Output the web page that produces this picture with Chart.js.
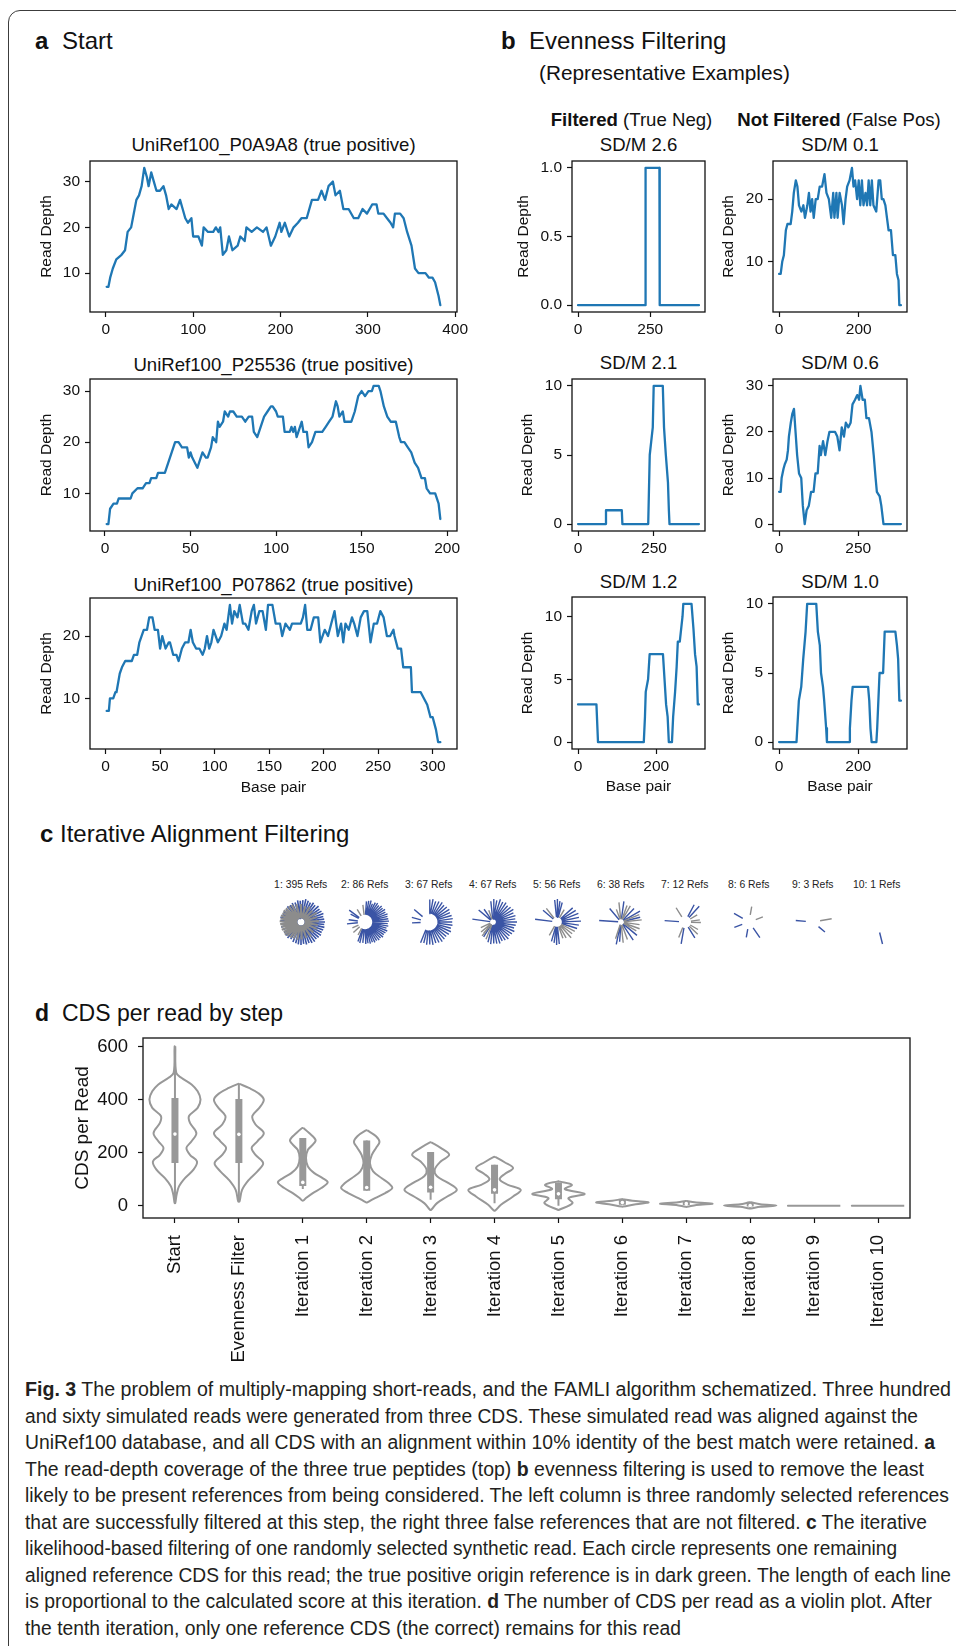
<!DOCTYPE html>
<html lang="en">
<head>
<meta charset="utf-8">
<title>FAMLI Fig. 3</title>
<script src="https://cdn.jsdelivr.net/npm/chart.js@4.4.1/dist/chart.umd.min.js"></script>
<style>
  html, body { margin:0; padding:0; background:#fff; }
  body { position:relative; width:956px; height:1646px; overflow:hidden; font-family:'Liberation Sans', Arial, Helvetica, sans-serif; color:#111; }
  canvas { position:absolute; }
  .frame { position:absolute; left:8px; top:10px; width:1000px; height:1700px; border:1.3px solid #3c3c3c; border-top-left-radius:12px; box-sizing:border-box; }
  .tx { position:absolute; white-space:nowrap; line-height:1; transform:translateY(-50%); }
  .tc { position:absolute; white-space:nowrap; line-height:1; transform:translate(-50%,-50%); }
  .hd { font-size:24px; }
  .st { font-size:18.6px; }
  .cl { font-size:10.4px; color:#222; }
  .cap { position:absolute; left:24.7px; white-space:nowrap; font-size:19.5px; line-height:1; transform-origin:0 50%; color:#231f20; }
</style>
</head>
<body>
<div class="frame"></div>

<div class="tx hd" style="left:35px;top:41px"><b>a</b></div>
<div class="tx hd" style="left:62px;top:41px">Start</div>
<div class="tx hd" style="left:501px;top:41px"><b>b</b></div>
<div class="tx hd" style="left:529px;top:41px">Evenness Filtering</div>
<div class="tx" style="left:539px;top:73px;font-size:20.8px">(Representative Examples)</div>

<div class="tc st" style="left:273.5px;top:145px">UniRef100_P0A9A8 (true positive)</div>
<div class="tc st" style="left:273.5px;top:365px">UniRef100_P25536 (true positive)</div>
<div class="tc st" style="left:273.5px;top:585px">UniRef100_P07862 (true positive)</div>

<div class="tc st" style="left:631.5px;top:120px"><b>Filtered</b> (True Neg)</div>
<div class="tc st" style="left:839px;top:120px"><b>Not Filtered</b> (False Pos)</div>
<div class="tc st" style="left:638.5px;top:145px">SD/M 2.6</div>
<div class="tc st" style="left:840px;top:145px">SD/M 0.1</div>
<div class="tc st" style="left:638.5px;top:363px">SD/M 2.1</div>
<div class="tc st" style="left:840px;top:363px">SD/M 0.6</div>
<div class="tc st" style="left:638.5px;top:582px">SD/M 1.2</div>
<div class="tc st" style="left:840px;top:582px">SD/M 1.0</div>

<div class="tx hd" style="left:40px;top:834px"><b>c</b></div>
<div class="tx hd" style="left:60px;top:834px">Iterative Alignment Filtering</div>

<div class="tx" style="left:35px;top:1013px;font-size:23px"><b>d</b></div>
<div class="tx" style="left:62px;top:1013px;font-size:23px">CDS per read by step</div>

<div class="cap" data-w="926" style="top:1390px"><b>Fig. 3</b> The problem of multiply-mapping short-reads, and the FAMLI algorithm schematized. Three hundred</div>
<div class="cap" data-w="893" style="top:1416.5px">and sixty simulated reads were generated from three CDS. These simulated read was aligned against the</div>
<div class="cap" data-w="910" style="top:1443px">UniRef100 database, and all CDS with an alignment within 10% identity of the best match were retained. <b>a</b></div>
<div class="cap" data-w="899" style="top:1469.5px">The read-depth coverage of the three true peptides (top) <b>b</b> evenness filtering is used to remove the least</div>
<div class="cap" data-w="924" style="top:1496px">likely to be present references from being considered. The left column is three randomly selected references</div>
<div class="cap" data-w="902" style="top:1522.5px">that are successfully filtered at this step, the right three false references that are not filtered. <b>c</b> The iterative</div>
<div class="cap" data-w="872" style="top:1549px">likelihood-based filtering of one randomly selected synthetic read. Each circle represents one remaining</div>
<div class="cap" data-w="926" style="top:1575.5px">aligned reference CDS for this read; the true positive origin reference is in dark green. The length of each line</div>
<div class="cap" data-w="907" style="top:1602px">is proportional to the calculated score at this iteration. <b>d</b> The number of CDS per read as a violin plot. After</div>
<div class="cap" data-w="656" style="top:1628.5px">the tenth iteration, only one reference CDS (the correct) remains for this read</div>

<script>
// ===================== DATA =====================
// Panel a : read depth of the three true positives
const a1X = [1,3,5,8,12,18,22,25,29,31,35,38,41,44,47,49,52,55,58,62,66,69,72,75,81,85,88,91,94,98,100,106,110,112,117,123,126,129,131,134,138,141,145,151,154,159,161,167,173,180,184,189,194,199,201,205,210,215,220,224,230,236,243,247,251,255,260,263,268,272,278,284,289,294,299,305,310,312,318,322,326,329,331,337,341,345,350,354,358,366,370,374,377,381,383];
const a1Y = [7,7,9,11,13,14,15,19,20,22,26,27,29,33,31,29,32,30,28,28,29,27,24,25,24,26,24,22,21,22,18,18,16,20,19,19,20,19,20,14,15,18,15,16,18,17,20,19,20,19,20,16,18,21,19,21,18,20,21,22,22,26,26,28,26,29,30,27,28,24,24,22,22,24,23,25,25,23,23,22,21,20,23,23,22,19,16,11,10,10,9,9,8,5,3];
const a2X = [1,2,3,5,7,8,15,16,19,22,24,26,27,30,31,35,37,39,41,43,45,48,49,50,51,54,55,57,59,60,62,63,65,66,67,69,70,72,73,75,77,80,82,84,86,87,89,91,93,95,97,98,100,101,104,105,108,109,110,111,112,114,115,116,118,119,121,123,127,129,131,133,135,136,137,139,140,144,146,148,150,152,154,156,157,160,161,163,165,167,170,172,173,175,177,179,181,183,185,187,188,190,193,195,196];
const a2Y = [4,4,7,8,8,9,9,10,11,11,12,12,13,13,14,14,16,18,20,20,19,19,17,18,17,15,16,18,17,17,19,21,20,24,23,24,26,25,26,26,25,25,24,25,25,22,21,23,25,26,27,27,26,25,25,22,22,23,22,23,21,23,24,22,22,19,20,22,22,23,24,25,28,27,25,26,24,24,26,29,30,29,30,30,31,31,30,27,25,24,24,21,20,20,19,18,16,15,13,13,11,10,10,8,5];
const a3X = [1,3,4,7,9,10,13,15,18,24,26,29,31,33,35,38,40,43,45,48,50,52,55,58,59,62,65,67,70,73,76,78,80,83,86,89,91,93,95,97,99,101,103,106,109,111,114,116,118,121,123,126,128,131,134,136,138,141,144,147,149,153,156,160,162,165,169,171,175,179,181,183,185,188,191,195,197,201,204,207,210,213,216,218,220,223,226,228,231,234,237,240,243,246,249,252,255,258,261,264,265,268,271,273,280,281,289,292,295,298,300,303,305,307];
const a3Y = [8,8,10,10,11,11,14,15,16,16,17,17,19,20,21,21,23,23,21,21,18,20,18,19,19,17,17,16,18,19,19,21,19,18,18,17,18,20,18,19,21,20,19,20,22,21,25,22,24,23,25,22,22,21,24,25,22,24,24,21,25,25,22,22,20,22,21,22,22,22,23,25,21,21,23,23,19,21,20,22,24,20,22,19,22,21,23,22,20,23,24,24,19,22,22,24,23,20,20,21,20,18,18,15,15,11,11,10,9,7,7,5,3,3];

// Panel b : evenness filtering examples
const b1X = [0,233,234,282,283,419];
const b1Y = [0,0,1,1,0,0];
const b2X = [0,4,8,12,17,21,29,33,37,42,46,50,56,61,65,71,75,79,83,87,92,97,102,108,114,119,125,131,136,139,144,147,152,158,162,167,171,177,183,187,191,196,200,204,208,212,217,221,225,229,233,237,244,250,254,258,262,267,271,275,281,286,292,296,300,302,306];
const b2Y = [8,8,10,11,15,16,16,18,21,23,22,19,18,19,17,19,21,18,20,17,20,20,22,22,24,21,20,17,21,17,21,17,21,19,16,20,22,23,25,22,23,20,23,19,23,19,21,19,23,19,23,19,18,23,23,20,20,19,17,15,15,11,11,8,7,3,3];
const b3X = [0,90,92,144,146,231,236,241,246,249,279,283,289,296,299,301,398];
const b3Y = [0,0,1,1,0,0,5,6,7,10,10,7,5,3,1,0,0];
const b4X = [0,5,8,14,18,24,28,31,37,42,47,52,57,63,70,75,81,87,94,101,109,115,122,128,132,139,146,153,159,170,177,184,191,198,205,211,219,226,232,240,247,253,257,264,271,276,284,292,299,305,309,318,323,330,385];
const b4Y = [7,7,10,12,13,14,16,19,22,24,25,20,15,11,10,4,0,3,4,7,7,11,11,17,15,18,15,18,20,20,20,19,16,21,19,22,21,22,26,27,28,27,30,27,27,23,23,20,15,10,7,6,4,0,0];
const b5X = [0,47,51,168,171,173,179,183,217,221,225,229,232,240,243,248,252,255,260,267,269,290,295,299,303,306,309];
const b5Y = [3,3,0,0,2,4,5,7,7,5,3,2,0,0,2,4,6,8,8,10,11,11,9,7,6,3,3];
const b6X = [0,44,46,50,56,61,64,67,71,94,98,103,106,111,114,119,121,178,179,183,186,225,228,231,234,246,248,251,254,263,267,294,298,301,304,308];
const b6Y = [0,0,1,3,4,6,7,8,10,10,8,7,5,4,3,1,0,0,1,3,4,4,3,1,0,0,1,3,5,5,8,8,7,6,3,3];

// tick values
const a1XTicks = [0,100,200,300,400], a1YTicks = [10,20,30];
const a2XTicks = [0,50,100,150,200], a2YTicks = [10,20,30];
const a3XTicks = [0,50,100,150,200,250,300], a3YTicks = [10,20];
const b1XTicks = [0,250], b1YTicks = [0,0.5,1];
const b2XTicks = [0,200], b2YTicks = [10,20];
const b3XTicks = [0,250], b3YTicks = [0,5,10];
const b4XTicks = [0,250], b4YTicks = [0,10,20,30];
const b5XTicks = [0,200], b5YTicks = [0,5,10];
const b6XTicks = [0,200], b6YTicks = [0,5,10];

// Panel c : iterative alignment filtering (spoke angle in degrees, relative score)
const refCounts = [395,86,67,67,56,38,12,6,3,1];
const c1BlueAng = [0,7,14,21,28,35,42,50,57,64,71,78,85,92,99,107,115,123,131,140,149,158,167,176,185,194,203,212,221,230,239,248,256,263,270,277,284,291,298,305,312,319,326,333,340,347,354];
const c1BlueLen = [1,.97,.95,1,.96,.93,.98,.9,.95,.88,.92,.97,.9,.86,.9,.82,.85,.8,.84,.78,.82,.8,.86,.84,.8,.83,.78,.8,.82,.85,.8,.88,.9,.93,.95,.9,.96,.93,.98,1,.95,.97,1,.96,.98,1,.97];
const c1GrayAng = [3,17,31,45,60,75,90,105,118,128,138,146,154,162,170,178,186,194,202,210,218,226,236,246,258,272,288,304,320,336,350];
const c1GrayLen = [.7,.65,.72,.6,.68,.62,.7,.72,.78,.8,.82,.85,.83,.86,.84,.87,.85,.82,.84,.8,.83,.78,.75,.7,.72,.68,.65,.7,.62,.68,.66];
const c2BlueAng = [86,80,74,68,62,56,50,44,38,32,26,20,14,8,2,-4,-10,-16,-22,-28,-34,-40,-46,-52,-58,-64,-70,-76,-82,-88,-96,-104,-110,143,151,172,186];
const c2BlueLen = [.8,.85,.9,.75,.88,.92,.85,.95,.9,.98,.92,1,.95,.97,1,.93,.98,.9,1,.95,.92,.97,.9,.94,.88,.92,.86,.9,.85,.88,.82,.86,.8,.75,.55,.55,.65];
const c2GrayAng = [97,122,205,222,-118];
const c2GrayLen = [.6,.45,.4,.5,.45];
const c3BlueAng = [88,80,72,64,56,48,40,32,24,16,8,0,-8,-16,-24,-32,-40,-48,-56,-64,-72,-80,-88,-96,-104,-112,140,165,183];
const c3BlueLen = [.9,.95,.85,.92,.98,.9,.95,1,.93,.97,1,.95,.98,.92,1,.96,.9,.94,.98,.92,.88,.95,.9,.93,.85,.9,.7,.6,.55];
const c3GrayAng = [];
const c3GrayLen = [];
const c4BlueAng = [96,88,80,72,64,56,48,40,32,24,16,8,0,-8,-16,-24,-32,-40,-48,-56,-64,-72,-80,-88,-96,-104,125,140,172,-122];
const c4BlueLen = [.85,.95,.9,1,.92,.97,.9,.95,1,.92,.97,.93,1,.95,.9,.97,.92,.88,.95,.9,.86,.93,.9,.88,.92,.85,.6,.75,.85,.7];
const c4GrayAng = [-112,-128,-140,205,230,110];
const c4GrayLen = [.75,.7,.6,.5,.55,.45];
const c5BlueAng = [96,89,82,75,42,32,22,12,2,-8,-18,-84,-91,-98,-106,140,173];
const c5BlueLen = [.9,.95,.85,.8,.85,.9,.95,.92,1,.9,.85,.9,.95,.85,.8,.7,.9];
const c5GrayAng = [128,-28,-38,-48,-60,-70,60,-120];
const c5GrayLen = [.65,.8,.75,.85,.7,.65,.5,.55];
const c6BlueAng = [176,130,82,46,30,14,-40,-56,-94,-102];
const c6BlueLen = [.9,.7,.85,.75,.9,.8,.85,.9,.8,.95];
const c6GrayAng = [96,70,60,22,6,-8,-20,-30,-70,-84,-108,110];
const c6GrayLen = [.8,.7,.75,.8,.85,.75,.8,.7,.75,.85,.7,.5];
const c7BlueAng = [176,62,48,-58,-100];
const c7BlueLen = [.8,.75,.85,.7,.9];
const c7GrayAng = [122,8,-2,-44,-112,30,-30];
const c7GrayLen = [.6,.5,.55,.65,.6,.45,.5];
const c8BlueAng = [150,200,-55,-100];
const c8BlueLen = [.6,.5,.7,.5];
const c8GrayAng = [80,20];
const c8GrayLen = [.5,.45];
const c9BlueAng = [175,-40];
const c9BlueLen = [.6,.5];
const c9GrayAng = [10];
const c9GrayLen = [.7];
const c10BlueAng = [-76];
const c10BlueLen = [.9];
const c10GrayAng = [];
const c10GrayLen = [];

// Panel d : CDS per read by step (violin density outline: levels and half widths)
const stepLabels = ['Start','Evenness Filter','Iteration 1','Iteration 2','Iteration 3','Iteration 4','Iteration 5','Iteration 6','Iteration 7','Iteration 8','Iteration 9','Iteration 10'];
const vLev0 = [601,501,482,457,431,400,369,338,312,274,243,218,192,167,136,104,73,42,10];
const vWid0 = [.005,.02,.1,.26,.355,.40,.355,.22,.235,.335,.26,.18,.235,.345,.29,.157,.063,.026,.005];
const vLev1 = [459,444,425,400,369,338,306,274,243,218,192,161,130,98,60,16];
const vWid1 = [.01,.157,.30,.39,.32,.21,.26,.39,.29,.2,.26,.38,.29,.157,.05,.01];
const vLev2 = [293,274,248,230,211,180,148,123,104,88,67,48,29,20];
const vWid2 = [.01,.1,.2,.157,.08,.05,.08,.18,.31,.39,.29,.157,.05,.01];
const vLev3 = [284,262,240,218,192,161,130,104,86,67,48,29,13];
const vWid3 = [.01,.146,.2,.146,.08,.05,.1,.235,.34,.40,.29,.13,.01];
const vLev4 = [239,218,192,167,136,111,88,60,35,10,-15];
const vWid4 = [.01,.157,.29,.157,.063,.1,.26,.41,.26,.1,.01];
const vLev5 = [184,164,142,120,100,80,60,35,4,-18];
const vWid5 = [.01,.157,.29,.16,.08,.2,.41,.29,.1,.01];
const vLev6 = [92,79,63,45,29,10,-15];
const vWid6 = [.01,.21,.1,.41,.157,.22,.01];
const vLev7 = [25,19,13,6,-3];
const vWid7 = [.01,.157,.41,.21,.01];
const vLev8 = [18,13,8,3,-4];
const vWid8 = [.01,.13,.41,.157,.01];
const vLev9 = [13,6,1,-4,-10];
const vWid9 = [.01,.157,.41,.157,.01];
const vLev10 = [0];
const vWid10 = [.41];
const vLev11 = [0];
const vWid11 = [.41];
const boxQ1 = [161,161,75,57,50,45,25,4,3,-3,0,0];
const boxQ3 = [406,402,255,246,203,155,88,23,15,12,0,0];
const boxMed = [270,269,88,69,70,60,45,12,8,1,0,0];
const whiskLo = [10,16,63,57,23,10,0,4,3,-8,0,0];
const whiskHi = [600,459,255,246,203,155,88,23,15,12,0,0];
const dYTicks = [0,200,400,600];

// ===================== RENDERING =====================
Chart.defaults.font.family = "'Liberation Sans', Arial, Helvetica, sans-serif";
Chart.defaults.color = '#111';

const framePlugin = {
  id: 'frame',
  afterDatasetsDraw(chart, args, opts) {
    const a = chart.chartArea, ctx = chart.ctx;
    ctx.save();
    ctx.strokeStyle = opts.color || '#111';
    ctx.lineWidth = opts.width || 1.3;
    ctx.strokeRect(a.left, a.top, a.right - a.left, a.bottom - a.top);
    ctx.restore();
  }
};

function place(left, top, w, h) {
  const c = document.createElement('canvas');
  c.width = Math.round(w); c.height = Math.round(h);
  c.style.left = Math.round(left) + 'px'; c.style.top = Math.round(top) + 'px';
  c.style.width = Math.round(w) + 'px'; c.style.height = Math.round(h) + 'px';
  document.body.appendChild(c);
  return c;
}
function lim(arr) {
  const mn = Math.min(...arr), mx = Math.max(...arr), m = (mx - mn) * 0.05;
  return [mn - m, mx + m];
}

function depthChart(o) {
  const PT = 25, PR = 30, FS = 15.5, LH = FS * 1.2;
  const cl = Math.round(o.yTitleX - LH / 2);
  const yW = o.L - cl;
  const xH = o.xTitle ? Math.round(o.xTitleY + LH / 2 - o.B) : 32;
  const cv = place(cl, o.T - PT, (o.R - o.L) + yW + PR, (o.B - o.T) + PT + xH);
  const [x0, x1] = lim(o.xs), [y0, y1] = lim(o.ys);
  const fmt = o.yFmt || (v => String(v));
  new Chart(cv, {
    type: 'line',
    data: { datasets: [{
      data: o.xs.map((x, i) => ({ x: x, y: o.ys[i] })),
      borderColor: '#1f77b4', borderWidth: 2.3, pointRadius: 0, tension: 0,
      borderJoinStyle: 'round', borderCapStyle: 'round'
    }]},
    options: {
      responsive: false, animation: false, events: [],
      layout: { padding: { top: PT, right: PR, left: 0, bottom: 0 } },
      plugins: { legend: { display: false }, tooltip: { enabled: false }, frame: {} },
      scales: {
        x: {
          type: 'linear', bounds: 'data', min: x0, max: x1,
          afterFit: s => { s.height = xH; },
          afterBuildTicks: s => { s.ticks = o.xTicks.map(v => ({ value: v })); },
          ticks: { font: { size: FS }, color: '#111', padding: 3, maxRotation: 0, autoSkip: false, callback: v => String(v) },
          grid: { drawOnChartArea: false, tickLength: 5, tickColor: '#111', tickWidth: 1.2 },
          border: { display: false },
          title: { display: !!o.xTitle, text: o.xTitle || '', font: { size: FS }, color: '#111', padding: 0 }
        },
        y: {
          type: 'linear', bounds: 'data', min: y0, max: y1,
          afterFit: s => { s.width = yW; },
          afterBuildTicks: s => { s.ticks = o.yTicks.map(v => ({ value: v })); },
          ticks: { font: { size: FS }, color: '#111', padding: 5, autoSkip: false, callback: v => fmt(v) },
          grid: { drawOnChartArea: false, tickLength: 5, tickColor: '#111', tickWidth: 1.2 },
          border: { display: false },
          title: { display: true, text: 'Read Depth', font: { size: FS }, color: '#111', padding: 0 }
        }
      }
    },
    plugins: [framePlugin]
  });
}

// Panel a
depthChart({ xs: a1X, ys: a1Y, L: 90, T: 161, R: 457, B: 312, yTitleX: 46, xTicks: a1XTicks, yTicks: a1YTicks });
depthChart({ xs: a2X, ys: a2Y, L: 90, T: 379, R: 457, B: 531, yTitleX: 46, xTicks: a2XTicks, yTicks: a2YTicks });
depthChart({ xs: a3X, ys: a3Y, L: 90, T: 598, R: 457, B: 749, yTitleX: 46, xTicks: a3XTicks, yTicks: a3YTicks, xTitle: 'Base pair', xTitleY: 788 });
// Panel b
depthChart({ xs: b1X, ys: b1Y, L: 572, T: 161, R: 705, B: 312, yTitleX: 523, xTicks: b1XTicks, yTicks: b1YTicks, yFmt: v => v.toFixed(1) });
depthChart({ xs: b2X, ys: b2Y, L: 773, T: 161, R: 907, B: 312, yTitleX: 728, xTicks: b2XTicks, yTicks: b2YTicks });
depthChart({ xs: b3X, ys: b3Y, L: 572, T: 379, R: 705, B: 531, yTitleX: 527, xTicks: b3XTicks, yTicks: b3YTicks });
depthChart({ xs: b4X, ys: b4Y, L: 773, T: 379, R: 907, B: 531, yTitleX: 728, xTicks: b4XTicks, yTicks: b4YTicks });
depthChart({ xs: b5X, ys: b5Y, L: 572, T: 597, R: 705, B: 749, yTitleX: 527, xTicks: b5XTicks, yTicks: b5YTicks, xTitle: 'Base pair', xTitleY: 787 });
depthChart({ xs: b6X, ys: b6Y, L: 773, T: 597, R: 907, B: 749, yTitleX: 728, xTicks: b6XTicks, yTicks: b6YTicks, xTitle: 'Base pair', xTitleY: 787 });

// Panel c
const circleSpokes = [
  [c1BlueAng, c1BlueLen, c1GrayAng, c1GrayLen],
  [c2BlueAng, c2BlueLen, c2GrayAng, c2GrayLen],
  [c3BlueAng, c3BlueLen, c3GrayAng, c3GrayLen],
  [c4BlueAng, c4BlueLen, c4GrayAng, c4GrayLen],
  [c5BlueAng, c5BlueLen, c5GrayAng, c5GrayLen],
  [c6BlueAng, c6BlueLen, c6GrayAng, c6GrayLen],
  [c7BlueAng, c7BlueLen, c7GrayAng, c7GrayLen],
  [c8BlueAng, c8BlueLen, c8GrayAng, c8GrayLen],
  [c9BlueAng, c9BlueLen, c9GrayAng, c9GrayLen],
  [c10BlueAng, c10BlueLen, c10GrayAng, c10GrayLen]
];
const circleStyle = { x0: 300.7, dx: 64, cy: 921.7, labelY: 885, R: 24, half: 28,
  inner: [0.15, 0.3, 0.35, 0.12, 0.2, 0.12, 0.25, 0.3, 0.3, 0.45] };
function spokes(ang, len, rIn, R) {
  const pts = [];
  ang.forEach((a, i) => {
    const t = a * Math.PI / 180, r0 = rIn * R, r1 = (rIn + (1 - rIn) * len[i]) * R;
    pts.push({ x: r0 * Math.cos(t), y: r0 * Math.sin(t) }, { x: r1 * Math.cos(t), y: r1 * Math.sin(t) }, { x: 0, y: null });
  });
  return pts;
}
circleSpokes.forEach((sp, i) => {
  const cs = circleStyle, cx = cs.x0 + cs.dx * i;
  const lab = document.createElement('div');
  lab.className = 'tc cl';
  lab.style.left = cx + 'px'; lab.style.top = cs.labelY + 'px';
  lab.textContent = (i + 1) + ': ' + refCounts[i] + ' Refs';
  document.body.appendChild(lab);
  const cv = place(cx - cs.half, cs.cy - cs.half, cs.half * 2, cs.half * 2);
  new Chart(cv, {
    type: 'line',
    data: { datasets: [
      { data: spokes(sp[2], sp[3], cs.inner[i], cs.R), borderColor: '#8c8c8c', borderWidth: i === 0 ? 2.2 : 1.4, pointRadius: 0, order: 0 },
      { data: spokes(sp[0], sp[1], cs.inner[i], cs.R), borderColor: '#3a54a5', borderWidth: i === 0 ? 1.6 : 1.4, pointRadius: 0, order: 1 }
    ]},
    options: {
      responsive: false, animation: false, events: [],
      layout: { padding: 0 },
      plugins: { legend: { display: false }, tooltip: { enabled: false } },
      scales: {
        x: { type: 'linear', min: -cs.half, max: cs.half, display: false },
        y: { type: 'linear', min: -cs.half, max: cs.half, display: false }
      }
    }
  });
});

// Panel d
(function () {
  const L = 143, T = 1038, R = 910, B = 1218, PT = 25, PR = 30, FS = 18.5, TFS = 19;
  const cl = Math.round(82 - TFS * 1.2 / 2);
  const yW = L - cl, xH = 160;
  const cv = place(cl, T - PT, (R - L) + yW + PR, (B - T) + PT + xH);
  const GRAY = '#989898';
  const levs = [vLev0, vLev1, vLev2, vLev3, vLev4, vLev5, vLev6, vLev7, vLev8, vLev9, vLev10, vLev11];
  const wids = [vWid0, vWid1, vWid2, vWid3, vWid4, vWid5, vWid6, vWid7, vWid8, vWid9, vWid10, vWid11];
  const ds = [];
  ds.push({ data: boxMed.map((m, k) => ({ x: k, y: boxQ3[k] > boxQ1[k] ? m : null })), showLine: false,
    pointRadius: 1.8, pointBackgroundColor: '#fff', pointBorderWidth: 0, order: 0 });
  const bx = [], wk = [];
  boxQ1.forEach((q, k) => {
    bx.push({ x: k, y: q }, { x: k, y: boxQ3[k] }, { x: k, y: null });
    wk.push({ x: k, y: whiskLo[k] }, { x: k, y: whiskHi[k] }, { x: k, y: null });
  });
  ds.push({ data: bx, borderColor: GRAY, borderWidth: 7, borderCapStyle: 'butt', pointRadius: 0, order: 1 });
  ds.push({ data: wk, borderColor: GRAY, borderWidth: 2, borderCapStyle: 'butt', pointRadius: 0, order: 2 });
  levs.forEach((lev, k) => {
    const right = lev.map((y, i) => ({ x: k + wids[k][i], y: y }));
    const left = lev.map((y, i) => ({ x: k - wids[k][i], y: y })).reverse();
    ds.push({ data: right.concat(left, [right[0]]), borderColor: GRAY, borderWidth: 2, pointRadius: 0,
      tension: 0.35, borderJoinStyle: 'round', order: 3 });
  });
  new Chart(cv, {
    type: 'line',
    data: { datasets: ds },
    options: {
      responsive: false, animation: false, events: [],
      layout: { padding: { top: PT, right: PR, left: 0, bottom: 0 } },
      plugins: { legend: { display: false }, tooltip: { enabled: false }, frame: { color: '#222', width: 1.4 } },
      scales: {
        x: {
          type: 'linear', bounds: 'data', min: -0.5, max: stepLabels.length - 0.5,
          afterFit: s => { s.height = xH; },
          afterBuildTicks: s => { s.ticks = stepLabels.map((l, i) => ({ value: i })); },
          ticks: { font: { size: FS }, color: '#111', padding: 12, minRotation: 90, maxRotation: 90, autoSkip: false,
            callback: (v, i) => stepLabels[i] },
          grid: { drawOnChartArea: false, tickLength: 5, tickColor: '#111', tickWidth: 1.2 },
          border: { display: false }
        },
        y: {
          type: 'linear', bounds: 'data', min: -46, max: 632,
          afterFit: s => { s.width = yW; },
          afterBuildTicks: s => { s.ticks = dYTicks.map(v => ({ value: v })); },
          ticks: { font: { size: FS }, color: '#111', padding: 10, autoSkip: false, callback: v => String(v) },
          grid: { drawOnChartArea: false, tickLength: 5, tickColor: '#111', tickWidth: 1.2 },
          border: { display: false },
          title: { display: true, text: 'CDS per Read', font: { size: TFS }, color: '#111', padding: 0 }
        }
      }
    },
    plugins: [framePlugin]
  });
})();

// caption lines: condense each line to the width of the reference line
document.querySelectorAll('.cap').forEach(el => {
  const target = parseFloat(el.dataset.w);
  const w = el.getBoundingClientRect().width;
  const s = w > 0 ? target / w : 1;
  el.style.transform = 'translateY(-50%) scaleX(' + s.toFixed(4) + ')';
});
</script>
</body>
</html>
